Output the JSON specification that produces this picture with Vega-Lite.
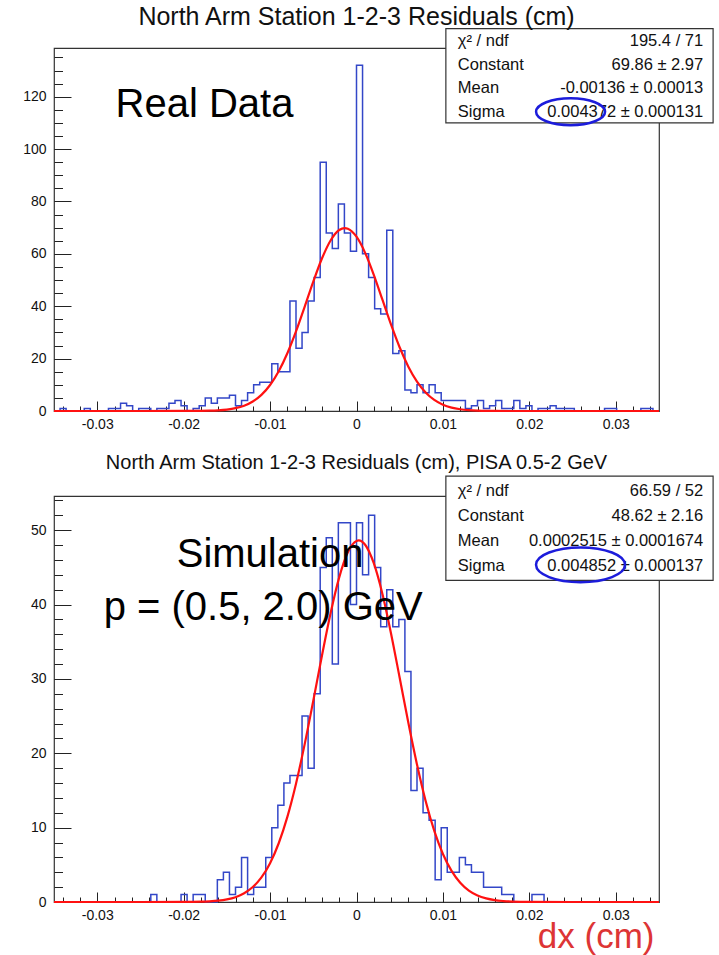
{
  "$schema": "https://vega.github.io/schema/vega-lite/v6.json",
  "padding": {"left": 22, "top": 4, "right": 0, "bottom": 0},
  "background": "white",
  "bounds": "flush",
  "spacing": 85,
  "config": {
    "view": {"stroke": "#333", "strokeWidth": 1.2},
    "font": "Liberation Sans",
    "axis": {"labelFont": "Liberation Sans", "labelColor": "#111", "tickColor": "#222", "domain": false, "grid": false, "labelFlush": false, "labelOverlap": false}
  },
  "datasets": {
    "one": [{}],
    "bins": [
      {"x": -0.03465, "real": 0, "sim": 0}, {"x": -0.03395, "real": 1, "sim": 0}, {"x": -0.03325, "real": 0, "sim": 0}, {"x": -0.03255, "real": 0, "sim": 0}, {"x": -0.03185, "real": 0, "sim": 0},
      {"x": -0.03115, "real": 1, "sim": 0}, {"x": -0.03045, "real": 0, "sim": 0}, {"x": -0.02975, "real": 0, "sim": 0}, {"x": -0.02905, "real": 0, "sim": 0}, {"x": -0.02835, "real": 1, "sim": 0},
      {"x": -0.02765, "real": 1, "sim": 0}, {"x": -0.02695, "real": 3, "sim": 0}, {"x": -0.02625, "real": 2, "sim": 0}, {"x": -0.02555, "real": 0, "sim": 0}, {"x": -0.02485, "real": 1, "sim": 0},
      {"x": -0.02415, "real": 1, "sim": 0}, {"x": -0.02345, "real": 0, "sim": 1}, {"x": -0.02275, "real": 1, "sim": 0}, {"x": -0.02205, "real": 1, "sim": 0}, {"x": -0.02135, "real": 3, "sim": 0},
      {"x": -0.02065, "real": 4, "sim": 0}, {"x": -0.01995, "real": 2, "sim": 1}, {"x": -0.01925, "real": 0, "sim": 0}, {"x": -0.01855, "real": 1, "sim": 1}, {"x": -0.01785, "real": 2, "sim": 1},
      {"x": -0.01715, "real": 5, "sim": 0}, {"x": -0.01645, "real": 3, "sim": 0}, {"x": -0.01575, "real": 5, "sim": 3}, {"x": -0.01505, "real": 5, "sim": 4}, {"x": -0.01435, "real": 6, "sim": 1},
      {"x": -0.01365, "real": 2, "sim": 2}, {"x": -0.01295, "real": 4, "sim": 6}, {"x": -0.01225, "real": 7, "sim": 1}, {"x": -0.01155, "real": 10, "sim": 2}, {"x": -0.01085, "real": 11, "sim": 2},
      {"x": -0.01015, "real": 11, "sim": 6}, {"x": -0.00945, "real": 18, "sim": 10}, {"x": -0.00875, "real": 15, "sim": 13}, {"x": -0.00805, "real": 15, "sim": 16}, {"x": -0.00735, "real": 42, "sim": 17},
      {"x": -0.00665, "real": 24, "sim": 17}, {"x": -0.00595, "real": 30, "sim": 25}, {"x": -0.00525, "real": 42, "sim": 18}, {"x": -0.00455, "real": 51, "sim": 28}, {"x": -0.00385, "real": 95, "sim": 45},
      {"x": -0.00315, "real": 68, "sim": 49}, {"x": -0.00245, "real": 62, "sim": 32}, {"x": -0.00175, "real": 79, "sim": 51}, {"x": -0.00105, "real": 68, "sim": 51}, {"x": -0.00035, "real": 61, "sim": 40},
      {"x": 0.00035, "real": 132, "sim": 51}, {"x": 0.00105, "real": 60, "sim": 44}, {"x": 0.00175, "real": 51, "sim": 52}, {"x": 0.00245, "real": 39, "sim": 45}, {"x": 0.00315, "real": 37, "sim": 37},
      {"x": 0.00385, "real": 69, "sim": 42}, {"x": 0.00455, "real": 22, "sim": 37}, {"x": 0.00525, "real": 23, "sim": 38}, {"x": 0.00595, "real": 8, "sim": 31}, {"x": 0.00665, "real": 7, "sim": 15},
      {"x": 0.00735, "real": 10, "sim": 18}, {"x": 0.00805, "real": 7, "sim": 12}, {"x": 0.00875, "real": 10, "sim": 11}, {"x": 0.00945, "real": 7, "sim": 3}, {"x": 0.01015, "real": 4, "sim": 10},
      {"x": 0.01085, "real": 4, "sim": 4}, {"x": 0.01155, "real": 4, "sim": 4}, {"x": 0.01225, "real": 4, "sim": 6}, {"x": 0.01295, "real": 1, "sim": 5}, {"x": 0.01365, "real": 2, "sim": 4},
      {"x": 0.01435, "real": 4, "sim": 4}, {"x": 0.01505, "real": 1, "sim": 2}, {"x": 0.01575, "real": 2, "sim": 2}, {"x": 0.01645, "real": 4, "sim": 2}, {"x": 0.01715, "real": 1, "sim": 1},
      {"x": 0.01785, "real": 1, "sim": 1}, {"x": 0.01855, "real": 4, "sim": 0}, {"x": 0.01925, "real": 1, "sim": 0}, {"x": 0.01995, "real": 2, "sim": 0}, {"x": 0.02065, "real": 0, "sim": 1},
      {"x": 0.02135, "real": 1, "sim": 1}, {"x": 0.02205, "real": 1, "sim": 0}, {"x": 0.02275, "real": 2, "sim": 0}, {"x": 0.02345, "real": 1, "sim": 0}, {"x": 0.02415, "real": 1, "sim": 0},
      {"x": 0.02485, "real": 1, "sim": 0}, {"x": 0.02555, "real": 0, "sim": 0}, {"x": 0.02625, "real": 0, "sim": 0}, {"x": 0.02695, "real": 0, "sim": 0}, {"x": 0.02765, "real": 0, "sim": 0},
      {"x": 0.02835, "real": 0, "sim": 0}, {"x": 0.02905, "real": 1, "sim": 0}, {"x": 0.02975, "real": 1, "sim": 0}, {"x": 0.03045, "real": 0, "sim": 0}, {"x": 0.03115, "real": 0, "sim": 0},
      {"x": 0.03185, "real": 0, "sim": 0}, {"x": 0.03255, "real": 0, "sim": 0}, {"x": 0.03325, "real": 1, "sim": 0}, {"x": 0.03395, "real": 1, "sim": 0}, {"x": 0.03465, "real": 0, "sim": 0}
    ],
    "fitTop": [
      {"x": -0.035, "f": 0}, {"x": -0.025, "f": 0}, {"x": -0.02, "f": 0.01}, {"x": -0.018, "f": 0.05}, {"x": -0.017, "f": 0.12},
      {"x": -0.016, "f": 0.26}, {"x": -0.015, "f": 0.54}, {"x": -0.014, "f": 1.07}, {"x": -0.013, "f": 2.02}, {"x": -0.012, "f": 3.62},
      {"x": -0.011, "f": 6.14}, {"x": -0.01, "f": 9.92}, {"x": -0.009, "f": 15.17}, {"x": -0.008, "f": 22.05}, {"x": -0.007, "f": 30.4},
      {"x": -0.006, "f": 39.78}, {"x": -0.005, "f": 49.4}, {"x": -0.004, "f": 58.22}, {"x": -0.003, "f": 65.12}, {"x": -0.002, "f": 69.11},
      {"x": -0.00136, "f": 69.86}, {"x": -0.001, "f": 69.62}, {"x": 0, "f": 66.56}, {"x": 0.001, "f": 60.39}, {"x": 0.002, "f": 52.0},
      {"x": 0.003, "f": 42.49}, {"x": 0.004, "f": 32.95}, {"x": 0.005, "f": 24.25}, {"x": 0.006, "f": 16.94}, {"x": 0.007, "f": 11.22},
      {"x": 0.008, "f": 7.06}, {"x": 0.009, "f": 4.22}, {"x": 0.01, "f": 2.39}, {"x": 0.011, "f": 1.28}, {"x": 0.012, "f": 0.66},
      {"x": 0.013, "f": 0.32}, {"x": 0.014, "f": 0.15}, {"x": 0.015, "f": 0.06}, {"x": 0.016, "f": 0.03}, {"x": 0.018, "f": 0},
      {"x": 0.025, "f": 0}, {"x": 0.035, "f": 0}
    ],
    "fitBot": [
      {"x": -0.035, "f": 0}, {"x": -0.025, "f": 0}, {"x": -0.02, "f": 0.01}, {"x": -0.018, "f": 0.04}, {"x": -0.017, "f": 0.09},
      {"x": -0.016, "f": 0.18}, {"x": -0.015, "f": 0.35}, {"x": -0.014, "f": 0.65}, {"x": -0.013, "f": 1.17}, {"x": -0.012, "f": 2.01},
      {"x": -0.011, "f": 3.3}, {"x": -0.01, "f": 5.22}, {"x": -0.009, "f": 7.9}, {"x": -0.008, "f": 11.45}, {"x": -0.007, "f": 15.91},
      {"x": -0.006, "f": 21.2}, {"x": -0.005, "f": 27.07}, {"x": -0.004, "f": 33.12}, {"x": -0.003, "f": 38.84}, {"x": -0.002, "f": 43.66},
      {"x": -0.001, "f": 47.03}, {"x": 0, "f": 48.55}, {"x": 0.00025, "f": 48.62}, {"x": 0.001, "f": 48.05}, {"x": 0.002, "f": 45.56},
      {"x": 0.003, "f": 41.42}, {"x": 0.004, "f": 36.08}, {"x": 0.005, "f": 30.12}, {"x": 0.006, "f": 24.1}, {"x": 0.007, "f": 18.48},
      {"x": 0.008, "f": 13.58}, {"x": 0.009, "f": 9.57}, {"x": 0.01, "f": 6.46}, {"x": 0.011, "f": 4.18}, {"x": 0.012, "f": 2.59},
      {"x": 0.013, "f": 1.54}, {"x": 0.014, "f": 0.88}, {"x": 0.015, "f": 0.48}, {"x": 0.016, "f": 0.25}, {"x": 0.017, "f": 0.13},
      {"x": 0.018, "f": 0.06}, {"x": 0.02, "f": 0.01}, {"x": 0.025, "f": 0}, {"x": 0.035, "f": 0}
    ]
  },
  "vconcat": [
    {
      "width": 605,
      "height": 363,
      "title": {"text": "North Arm Station 1-2-3 Residuals (cm)", "fontSize": 25, "font": "Liberation Sans", "fontWeight": "normal", "color": "#111", "anchor": "middle", "frame": "group", "offset": -2},
      "resolve": {"axis": {"x": "independent", "y": "independent"}},
      "layer": [
        {
          "data": {"name": "bins"},
          "mark": {"type": "line", "interpolate": "step", "color": "#3347c8", "strokeWidth": 1.5},
          "encoding": {
            "x": {"field": "x", "type": "quantitative", "scale": {"domain": [-0.035, 0.035], "nice": false, "zero": false},
                  "axis": {"orient": "bottom", "values": [-0.034,-0.032,-0.03,-0.028,-0.026,-0.024,-0.022,-0.02,-0.018,-0.016,-0.014,-0.012,-0.01,-0.008,-0.006,-0.004,-0.002,0,0.002,0.004,0.006,0.008,0.01,0.012,0.014,0.016,0.018,0.02,0.022,0.024,0.026,0.028,0.03,0.032,0.034], "labels": false, "tickSize": -5, "title": null}},
            "y": {"field": "real", "type": "quantitative", "scale": {"domain": [0, 138.6], "nice": false},
                  "axis": {"orient": "left", "values": [0,5,10,15,20,25,30,35,40,45,50,55,60,65,70,75,80,85,90,95,100,105,110,115,120,125,130,135], "labels": false, "tickSize": -8.5, "title": null}}
          }
        },
        {
          "data": {"name": "fitTop"},
          "mark": {"type": "line", "interpolate": "monotone", "color": "#ff1111", "strokeWidth": 2.2},
          "encoding": {
            "x": {"field": "x", "type": "quantitative",
                  "axis": {"orient": "bottom", "values": [-0.03,-0.02,-0.01,0,0.01,0.02,0.03], "labelExpr": "'' + datum.value", "tickSize": -10, "labelPadding": 16, "labelFontSize": 14, "title": null}},
            "y": {"field": "f", "type": "quantitative",
                  "axis": {"orient": "left", "values": [0,20,40,60,80,100,120], "labelExpr": "'' + datum.value", "tickSize": -17, "labelPadding": 25, "labelFontSize": 14, "title": null}}
          }
        },
        {
          "data": {"name": "one"},
          "mark": {"type": "text", "fontSize": 40, "font": "Liberation Sans", "align": "center", "baseline": "alphabetic", "color": "#000"},
          "encoding": {
            "x": {"datum": -0.01759, "type": "quantitative", "axis": null},
            "y": {"datum": 112.3, "type": "quantitative", "axis": null},
            "text": {"value": "Real Data"}
          }
        },
        {
          "data": {"name": "one"},
          "mark": {"type": "rect", "fill": "white", "stroke": "#333", "strokeWidth": 1.2},
          "encoding": {
            "x": {"datum": 0.01034, "type": "quantitative", "axis": null},
            "x2": {"datum": 0.04126},
            "y": {"datum": 146.0, "type": "quantitative", "axis": null},
            "y2": {"datum": 110.0}
          }
        },
        {
          "data": {"name": "one"},
          "mark": {"type": "text", "fontSize": 16.5, "font": "Liberation Sans", "align": "left", "baseline": "middle", "lineHeight": 23.5, "color": "#111"},
          "encoding": {
            "x": {"datum": 0.01172, "type": "quantitative", "axis": null},
            "y": {"datum": 141.1, "type": "quantitative", "axis": null},
            "text": {"value": ["χ² / ndf", "Constant", "Mean", "Sigma"]}
          }
        },
        {
          "data": {"name": "one"},
          "mark": {"type": "text", "fontSize": 16.5, "font": "Liberation Sans", "align": "right", "baseline": "middle", "lineHeight": 23.5, "color": "#111"},
          "encoding": {
            "x": {"datum": 0.04011, "type": "quantitative", "axis": null},
            "y": {"datum": 141.1, "type": "quantitative", "axis": null},
            "text": {"value": ["195.4 / 71", "69.86 ± 2.97", "-0.00136 ± 0.00013", "0.004372 ± 0.000131"]}
          }
        },
        {
          "data": {"name": "one"},
          "mark": {"type": "point", "shape": "M -1 0 A 1 0.39 0 1 1 1 0 A 1 0.39 0 1 1 -1 0 Z", "filled": false, "stroke": "#1c1cdb", "strokeWidth": 2.5, "size": 4761, "opacity": 1},
          "encoding": {
            "x": {"datum": 0.02477, "type": "quantitative", "axis": null},
            "y": {"datum": 114.25, "type": "quantitative", "axis": null}
          }
        }
      ]
    },
    {
      "width": 605,
      "height": 406,
      "title": {"text": "North Arm Station 1-2-3 Residuals (cm), PISA 0.5-2 GeV", "fontSize": 20, "font": "Liberation Sans", "fontWeight": "normal", "color": "#111", "anchor": "middle", "frame": "group", "offset": 2},
      "resolve": {"axis": {"x": "independent", "y": "independent"}},
      "layer": [
        {
          "data": {"name": "bins"},
          "mark": {"type": "line", "interpolate": "step", "color": "#3347c8", "strokeWidth": 1.5},
          "encoding": {
            "x": {"field": "x", "type": "quantitative", "scale": {"domain": [-0.035, 0.035], "nice": false, "zero": false},
                  "axis": {"orient": "bottom", "values": [-0.034,-0.032,-0.03,-0.028,-0.026,-0.024,-0.022,-0.02,-0.018,-0.016,-0.014,-0.012,-0.01,-0.008,-0.006,-0.004,-0.002,0,0.002,0.004,0.006,0.008,0.01,0.012,0.014,0.016,0.018,0.02,0.022,0.024,0.026,0.028,0.03,0.032,0.034], "labels": false, "tickSize": -5, "title": null}},
            "y": {"field": "sim", "type": "quantitative", "scale": {"domain": [0, 54.6], "nice": false},
                  "axis": {"orient": "left", "values": [0,2,4,6,8,10,12,14,16,18,20,22,24,26,28,30,32,34,36,38,40,42,44,46,48,50,52,54], "labels": false, "tickSize": -8.5, "title": null}}
          }
        },
        {
          "data": {"name": "fitBot"},
          "mark": {"type": "line", "interpolate": "monotone", "color": "#ff1111", "strokeWidth": 2.2},
          "encoding": {
            "x": {"field": "x", "type": "quantitative",
                  "axis": {"orient": "bottom", "values": [-0.03,-0.02,-0.01,0,0.01,0.02,0.03], "labelExpr": "'' + datum.value", "tickSize": -10, "labelPadding": 16, "labelFontSize": 14,
                           "title": "dx (cm)", "titleFontSize": 35, "titleFont": "Liberation Sans", "titleFontWeight": "normal", "titleColor": "#dd3535", "titleAnchor": "end", "titleAlign": "right", "titleBaseline": "alphabetic", "titleX": 600, "titleY": 45}},
            "y": {"field": "f", "type": "quantitative",
                  "axis": {"orient": "left", "values": [0,10,20,30,40,50], "labelExpr": "'' + datum.value", "tickSize": -17, "labelPadding": 25, "labelFontSize": 14, "title": null}}
          }
        },
        {
          "data": {"name": "one"},
          "mark": {"type": "text", "fontSize": 40, "font": "Liberation Sans", "align": "center", "baseline": "alphabetic", "color": "#000"},
          "encoding": {
            "x": {"datum": -0.0100, "type": "quantitative", "axis": null},
            "y": {"datum": 45.0, "type": "quantitative", "axis": null},
            "text": {"value": "Simulation"}
          }
        },
        {
          "data": {"name": "one"},
          "mark": {"type": "text", "fontSize": 40, "font": "Liberation Sans", "align": "center", "baseline": "alphabetic", "color": "#000"},
          "encoding": {
            "x": {"datum": -0.0108, "type": "quantitative", "axis": null},
            "y": {"datum": 37.9, "type": "quantitative", "axis": null},
            "text": {"value": "p = (0.5, 2.0) GeV"}
          }
        },
        {
          "data": {"name": "one"},
          "mark": {"type": "rect", "fill": "white", "stroke": "#333", "strokeWidth": 1.2},
          "encoding": {
            "x": {"datum": 0.01034, "type": "quantitative", "axis": null},
            "x2": {"datum": 0.04126},
            "y": {"datum": 57.28, "type": "quantitative", "axis": null},
            "y2": {"datum": 43.26}
          }
        },
        {
          "data": {"name": "one"},
          "mark": {"type": "text", "fontSize": 16.5, "font": "Liberation Sans", "align": "left", "baseline": "middle", "lineHeight": 25, "color": "#111"},
          "encoding": {
            "x": {"datum": 0.01172, "type": "quantitative", "axis": null},
            "y": {"datum": 55.3, "type": "quantitative", "axis": null},
            "text": {"value": ["χ² / ndf", "Constant", "Mean", "Sigma"]}
          }
        },
        {
          "data": {"name": "one"},
          "mark": {"type": "text", "fontSize": 16.5, "font": "Liberation Sans", "align": "right", "baseline": "middle", "lineHeight": 25, "color": "#111"},
          "encoding": {
            "x": {"datum": 0.04011, "type": "quantitative", "axis": null},
            "y": {"datum": 55.3, "type": "quantitative", "axis": null},
            "text": {"value": ["66.59 / 52", "48.62 ± 2.16", "0.0002515 ± 0.0001674", "0.004852 ± 0.000137"]}
          }
        },
        {
          "data": {"name": "one"},
          "mark": {"type": "point", "shape": "M -1 0 A 1 0.39 0 1 1 1 0 A 1 0.39 0 1 1 -1 0 Z", "filled": false, "stroke": "#1c1cdb", "strokeWidth": 2.5, "size": 7921, "opacity": 1},
          "encoding": {
            "x": {"datum": 0.02592, "type": "quantitative", "axis": null},
            "y": {"datum": 45.35, "type": "quantitative", "axis": null}
          }
        }
      ]
    }
  ]
}
